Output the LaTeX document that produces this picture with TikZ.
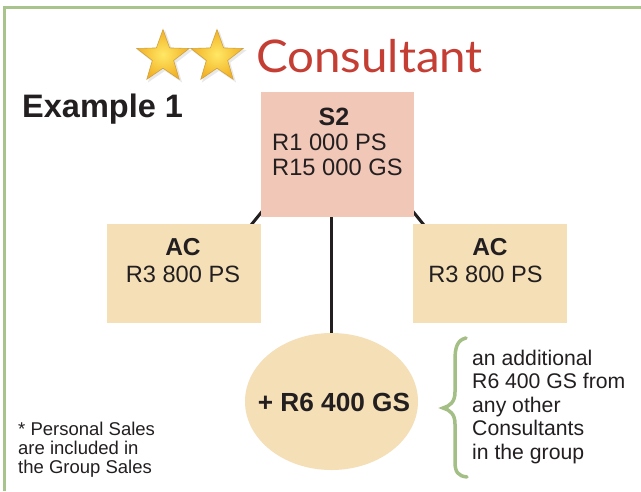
\documentclass[tikz,border=0pt]{standalone}
\usepackage{fontspec}
\setmainfont{Liberation Sans}
\newfontfamily\titlefont{Lato}
\usetikzlibrary{shapes.geometric}

\definecolor{ink}{HTML}{231F20}
\definecolor{framegreen}{HTML}{A9C38C}
\definecolor{bracegreen}{HTML}{A3BF86}
\definecolor{salmon}{HTML}{F1C7B7}
\definecolor{sand}{HTML}{F5DFB7}
\definecolor{titlered}{HTML}{C43E34}
\definecolor{starin}{HTML}{FFE866}
\definecolor{starout}{HTML}{F2B024}

\newcommand{\fs}[2]{\fontsize{#1}{#2}\selectfont}

\begin{document}
\begin{tikzpicture}[x=1pt,y=-1pt,
  box/.style={draw=none, inner sep=0pt, anchor=north west},
  txt/.style={inner sep=0pt, text=ink},
  link/.style={draw=ink, line width=3pt},
  goldstar/.style={star, star points=5, star point ratio=2.45, inner sep=0pt,
    minimum size=55pt, shading=radial, inner color=starin, outer color=starout,
    draw=starout!70!gray, line width=0.6pt},
  starshadow/.style={star, star points=5, star point ratio=2.45, inner sep=0pt,
    minimum size=58pt, fill=gray!18}
]
\useasboundingbox (0,0) rectangle (641,491);
\fill[white] (0,0) rectangle (641,491);

% frame
\draw[framegreen, line width=3pt] (4.5,491) -- (4.5,7) -- (641,7);

% rating stars and title
\node[starshadow] (sh1) at (165,59) {};
\node[starshadow] (sh2) at (219,59) {};
\node[goldstar] (st1) at (163,57) {};
\node[goldstar] (st2) at (217,57) {};
\node[txt, anchor=base west, text=titlered, font=\titlefont\fs{45}{50}] (title) at (256,72)
  {\scalebox{1.055}[1]{Consultant}};

\node[txt, anchor=base west, font=\bfseries\fs{32.5}{36}] (ex) at (22,117) {Example 1};

% connectors (behind the boxes)
\draw[link] (308,155) -- (212,273);
\draw[link] (367,155) -- (463,273);
\draw[link] (331,217) -- (331,334);

% boxes
\path[fill=salmon] (261,92) rectangle (414,217);
\node[box, minimum width=153pt, minimum height=125pt] (S2) at (261,92) {};
\node[box, fill=sand, minimum width=154pt, minimum height=99pt] (ACL) at (107,224) {};
\node[box, fill=sand, minimum width=154pt, minimum height=99pt] (ACR) at (413,224) {};
\node[ellipse, fill=sand, inner sep=0pt, minimum width=173pt, minimum height=137pt] (GS) at (331.5,401.5) {};

% S2 box text
\node[txt, anchor=base, font=\bfseries\fs{25}{28}] (s2a) at (334,125) {S2};
\node[txt, anchor=base west, font=\fs{23.7}{27}] (s2b) at (272,150) {R1 000 PS};
\node[txt, anchor=base west, font=\fs{23.7}{27}] (s2c) at (272,175) {R15 000 GS};

% AC boxes text
\node[txt, anchor=base, font=\bfseries\fs{24.5}{28}] (acla) at (183,255) {AC};
\node[txt, anchor=base, font=\fs{23.6}{27}] (aclb) at (183,282) {R3 800 PS};
\node[txt, anchor=base, font=\bfseries\fs{24.5}{28}] (acra) at (490,255) {AC};
\node[txt, anchor=base, font=\fs{23.6}{27}] (acrb) at (485.5,282) {R3 800 PS};

% group sales
\node[txt, anchor=base, font=\bfseries\fs{26.2}{30}] (gst) at (334,411) {+ R6 400 GS};

% brace and note (anchored at the baseline of the last line)
\draw[bracegreen, line width=3.5pt, line cap=round]
  (466,338) .. controls (457,340) and (455,348) .. (455,360) -- (455,392)
  .. controls (455,402) and (450,406) .. (443,408)
  .. controls (450,410) and (455,414) .. (455,424) -- (455,462)
  .. controls (455,472) and (458,476) .. (467,477);
\node[txt, anchor=base west, align=left, font=\fs{21.2}{23.5}] (note) at (472,459)
  {an additional\\R6 400 GS from\\any other\\Consultants\\in the group};

% footnote
\node[txt, anchor=base west, align=left, font=\fs{18.5}{18.7}] (foot) at (18,473)
  {* Personal Sales\\are included in\\the Group Sales};
\end{tikzpicture}
\end{document}
